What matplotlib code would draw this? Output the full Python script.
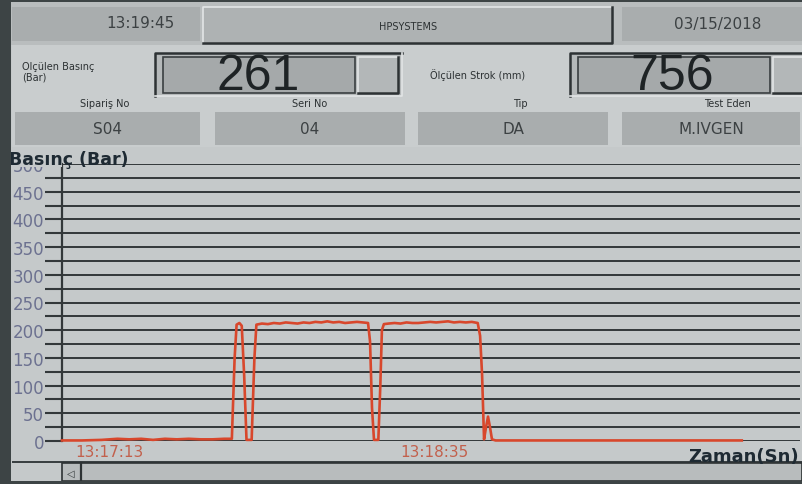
import matplotlib
matplotlib.use("Agg")
import matplotlib.pyplot as plt
from matplotlib.patches import Rectangle

# values
clock_time = "13:19:45"
clock_date = "03/15/2018"
title_text = "HPSYSTEMS"
pressure_now = "261"
stroke_now = "756"
field_names = ["Sipariş No", "Seri No", "Tip", "Test Eden"]
field_values = ["S04", "04", "DA", "M.IVGEN"]

# pressure trace, seconds from left edge of the trend / bar
t_sec = [0, 5, 10, 14, 17, 20, 23, 26, 29, 32, 35, 38, 41, 42.9,
         43.6, 44.1, 44.8, 45.4, 46.0, 46.6, 47.9, 48.6,
         49.1, 50.5, 52, 53.5, 55, 56.5, 58, 59.5, 61, 62.5, 64, 65.5, 67,
         68.5, 70, 71.5, 73, 74.5, 76, 77.3,
         77.8, 78.3, 78.8, 79.9, 80.4, 80.8, 81.3,
         82.5, 84, 85.5, 87, 88.5, 90, 91.5, 93, 94.5, 96, 97.5, 99, 100.5,
         102, 103.5, 105,
         105.6, 106.1, 106.6, 107.1, 107.6, 108.1, 108.6, 109.5,
         120, 130, 140, 150, 160, 171.7]
p_bar = [1, 1, 2, 4, 3, 4, 2, 4, 3, 4, 3, 3, 4, 4,
         150, 210, 213, 208, 120, 2, 2, 150,
         210, 212, 211, 213, 212, 214, 213, 212, 214, 213, 215, 214, 216,
         214, 215, 213, 214, 215, 214, 213,
         180, 60, 2, 2, 100, 200, 211,
         212, 213, 212, 214, 213, 213, 214, 215, 214, 215, 216, 214, 215,
         214, 215, 213,
         190, 120, 3, 25, 44, 25, 3, 1,
         1, 1, 1, 1, 1, 1]
y_ticks = [0, 50, 100, 150, 200, 250, 300, 350, 400, 450, 500]
x_tick_pos = [12, 94]
x_tick_labels = ["13:17:13", "13:18:35"]

W, H = 802, 485
BG = "#c5c9ca"
PANEL = "#a9adae"
DARK = "#3a4042"
TXT = "#2c3133"

fig = plt.figure(figsize=(W / 100, H / 100), dpi=100)
fig.patch.set_facecolor(BG)

ov = fig.add_axes([0, 0, 1, 1])
ov.set_xlim(0, W)
ov.set_ylim(H, 0)
ov.axis("off")


def box(x0, y0, x1, y1, fc, ec="none", lw=0, z=1):
    ov.add_patch(Rectangle((x0, y0), x1 - x0, y1 - y0, facecolor=fc,
                           edgecolor=ec, linewidth=lw, zorder=z))


def raised(x0, y0, x1, y1, fc):
    box(x0, y0, x1, y1, fc)
    ov.plot([x0, x0, x1], [y1, y0, y0], color="#e2e5e6", lw=1.2, zorder=2)
    ov.plot([x0, x1, x1], [y1, y1, y0], color="#2d3234", lw=1.8, zorder=2)


def sunken(x0, y0, x1, y1, fc):
    box(x0, y0, x1, y1, fc)
    ov.plot([x0, x0, x1], [y1, y0, y0], color="#2d3234", lw=1.8, zorder=2)
    ov.plot([x0, x1, x1], [y1, y1, y0], color="#e2e5e6", lw=1.2, zorder=2)


# header row
box(0, 0, W, 46, "#b9bdbe")
box(12, 8, 200, 42, PANEL)
ov.text(140, 24, clock_time, ha="center", va="center", fontsize=11, color="#3c4143")
raised(203, 8, 612, 44, "#aeb2b3")
ov.text(408, 27, title_text, ha="center", va="center", fontsize=7, color=TXT)
box(622, 8, W, 42, PANEL)
ov.text(718, 24, clock_date, ha="center", va="center", fontsize=11, color="#3c4143")

# live value row
box(12, 46, W, 148, "#c9cdce")
ov.text(22, 72, "Olçülen Basınç\n(Bar)", ha="left", va="center", fontsize=7,
        color=TXT, linespacing=1.0)
sunken(155, 54, 402, 97, "#b5b9ba")
box(163, 58, 355, 94, "#a5a9aa", ec="#3a3f41", lw=1.2)
ov.text(258, 77, pressure_now, ha="center", va="center", fontsize=36,
        family="Liberation Sans", color="#1e2325")
raised(358, 58, 398, 94, "#b3b7b8")
ov.text(430, 75, "Ölçülen Strok (mm)", ha="left", va="center", fontsize=7, color=TXT)
sunken(570, 54, W + 2, 97, "#b5b9ba")
box(578, 58, 770, 94, "#a5a9aa", ec="#3a3f41", lw=1.2)
ov.text(672, 77, stroke_now, ha="center", va="center", fontsize=36,
        family="Liberation Sans", color="#1e2325")
raised(773, 58, W + 5, 94, "#b3b7b8")

# order fields
field_x = [(15, 200), (215, 405), (418, 608), (622, 800)]
label_x = [105, 310, 520, 727]
for (x0, x1), lx, name, val in zip(field_x, label_x, field_names, field_values):
    ov.text(lx, 104, name, ha="center", va="center", fontsize=7, color=TXT)
    box(x0, 113, x1, 146, PANEL)
    ov.text((x0 + x1) / 2, 130, val, ha="center", va="center", fontsize=11,
            color="#3c4143")

# trend area
box(12, 150, W, 485, BG)
box(12, 462, W, 464, DARK, z=2)
box(62, 464, W, 482, "#b8bcbd", ec="#2d3234", lw=1.2, z=2)
ov.plot([81, 81], [464, 482], color="#2d3234", lw=1.6, zorder=3)
ov.text(71, 474, "◁", ha="center", va="center", fontsize=7, color=TXT, zorder=3)

ax = fig.add_axes([62 / W, (H - 442) / H, (800 - 62) / W, (442 - 165) / H])
ax.set_facecolor("none")
ax.set_xlim(0, 186.4)
ax.set_ylim(0, 500)
for s in ["top", "right", "bottom"]:
    ax.spines[s].set_visible(False)
ax.spines["left"].set_color("#33383a")
ax.spines["left"].set_linewidth(1.6)
ax.set_yticks(y_ticks)
ax.set_yticks([v + 25 for v in y_ticks[:-1]], minor=True)
ax.tick_params(axis="y", which="both", length=12, width=1.5, color="#33383a",
               labelsize=12, labelcolor="#6c7190", pad=1)
ax.yaxis.grid(True, which="both", color="#33383a", linewidth=1.4)
ax.set_axisbelow(True)
ax.set_xticks(x_tick_pos)
ax.set_xticklabels(x_tick_labels)
ax.tick_params(axis="x", length=0, labelsize=11, labelcolor="#c2604c", pad=2)

ax.plot(t_sec, p_bar, color="#d8472c", linewidth=1.9, clip_on=False, zorder=3)

fig.text(799 / W, (H - 457) / H, "Zaman(Sn)", ha="right", va="center",
         fontsize=13, fontweight="bold", color="#1e2a33")

# cover top of y labels and put axis title over it
fig.add_artist(Rectangle((12 / W, (H - 168) / H), 50 / W, 18 / H, transform=fig.transFigure,
                         facecolor=BG, edgecolor="none", zorder=4))
fig.text(9 / W, (H - 160) / H, "Basınç (Bar)", ha="left", va="center", fontsize=12.5,
         fontweight="bold", color="#1e2a33", zorder=5)

# dark bezel
for r in [(0, 0, 11, H), (0, H - 3, W, 3), (0, 0, W, 3)]:
    fig.add_artist(Rectangle((r[0] / W, 1 - (r[1] + r[3]) / H), r[2] / W, r[3] / H,
                             transform=fig.transFigure, facecolor="#3d4445",
                             edgecolor="none", zorder=6))

fig.savefig("out.png", dpi=100, facecolor=fig.get_facecolor())
